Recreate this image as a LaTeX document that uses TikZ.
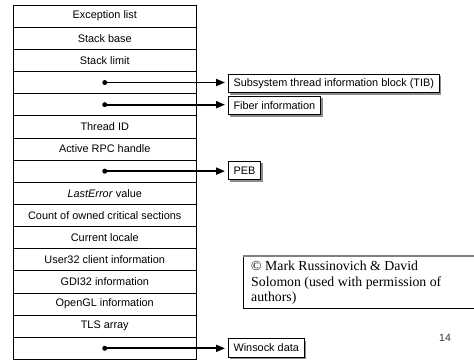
\documentclass[tikz,border=0pt]{standalone}
\usepackage{fontspec}
\setmainfont{Liberation Sans}
\newfontfamily\serifface{Liberation Serif}
\usetikzlibrary{arrows.meta,shadows}
\begin{document}
\begin{tikzpicture}[x=1pt,y=-1pt,
  cell/.style={draw, line width=0.8pt, minimum width=182.5pt, minimum height=22.15pt,
    inner sep=0pt, font=\fontsize{10.9}{12}\selectfont},
  tag/.style={draw, line width=1pt, fill=white, anchor=west, minimum height=18.5pt,
    inner xsep=5.5pt, inner ysep=0pt, font=\fontsize{10.9}{12}\selectfont,
    drop shadow={shadow xshift=1.8pt, shadow yshift=-1.8pt, fill=black!45, opacity=1}},
  ptr/.style={line width=1.9pt, -{Triangle[length=9pt,width=7pt]}, shorten >=2.5pt},
  dotmark/.style={fill, circle, inner sep=0pt, minimum size=5pt}]
\useasboundingbox (0,0) rectangle (474,360);
% stack of fields
\foreach \t [count=\i] in {Exception list, Stack base, Stack limit, {}, {}, Thread ID,
  Active RPC handle, {}, {\textit{LastError} value}, Count of owned critical sections,
  Current locale, User32 client information, GDI32 information, OpenGL information,
  TLS array, {}}
  \node[cell] (r\i) at (104.75, {5+(\i-0.5)*22.15}) {\t};
% pointer targets
\node[tag] (tib) at (227.5, 83.5) {Subsystem thread information block (TIB)};
\node[tag] (fib) at (227.5, 105.5) {Fiber information};
\node[tag] (peb) at (227.5, 170.5) {PEB};
\node[tag] (wsk) at (227.5, 348) {Winsock data};
% pointers
\node[dotmark] (d4) at (r4.center) {};
\node[dotmark] (d5) at (r5.center) {};
\node[dotmark] (d8) at (r8.center) {};
\node[dotmark] (d16) at (r16.center) {};
\draw[ptr] (d4.center) -- (d4.center -| tib.west);
\draw[ptr] (d5.center) -- (d5.center -| fib.west);
\draw[ptr] (d8.center) -- (d8.center -| peb.west);
\draw[ptr] (d16.center) -- (d16.center -| wsk.west);
% copyright box
\draw[line width=0.8pt] (243.5,256) -- (243.5,308) -- (480,308);
\draw[black!50, line width=2pt] (242.7,256) -- (480,256);
\node[anchor=north west, inner sep=0pt, align=left,
  font=\serifface\fontsize{13.8}{15.5}\selectfont] (cr) at (251,261)
  {© Mark Russinovich \& David\\Solomon (used with permission of\\authors)};
% page number
\node[font=\fontsize{10.5}{12}\selectfont, text=black!80] (pg) at (445,338) {14};
\end{tikzpicture}
\end{document}
